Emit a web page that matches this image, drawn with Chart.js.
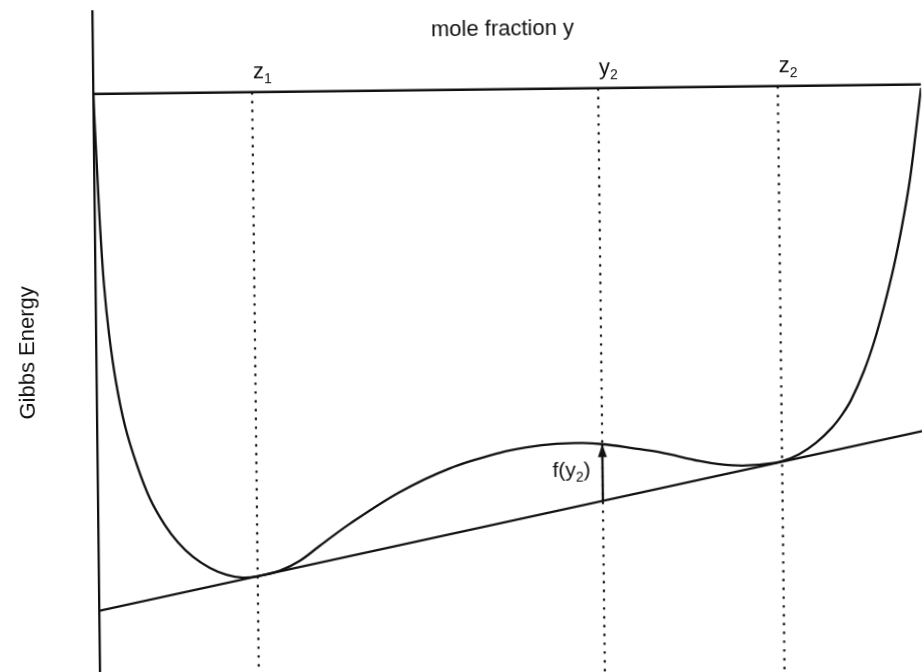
<!DOCTYPE html>
<html>
<head>
<meta charset="utf-8">
<script src="https://cdn.jsdelivr.net/npm/chart.js@4/dist/chart.umd.min.js"></script>
<style>
  html, body { margin: 0; padding: 0; background: #fff; overflow: hidden; width: 922px; height: 672px; }
  #wrap { position: absolute; left: 0; top: 0; width: 925px; height: 690px;
          transform-origin: 461px 336px; transform: rotate(-0.66deg); }
</style>
</head>
<body>
<div id="wrap"><canvas id="c"></canvas></div>
<script>
// Gibbs energy of mixing against mole fraction (arbitrary units)
const moleFraction = [0, 0.0036, 0.0064, 0.0104, 0.0158, 0.0235, 0.0338, 0.0477, 0.0629, 0.0806,
  0.0961, 0.114, 0.1343, 0.1547, 0.174, 0.192, 0.2187, 0.2429, 0.2673, 0.3038,
  0.3645, 0.4252, 0.4858, 0.5183, 0.5546, 0.586, 0.61, 0.6462, 0.6787, 0.7269,
  0.751, 0.7787, 0.8076, 0.827, 0.8475, 0.8682, 0.8877, 0.900, 0.9111, 0.9271,
  0.9397, 0.9522, 0.9648, 0.975, 0.9853, 0.9933, 1.0];
const gibbsEnergy = [10.0, 8.7, 7.72, 6.7, 5.85, 5.02, 4.26, 3.58, 3.0, 2.54,
  2.24, 1.985, 1.79, 1.665, 1.615, 1.636, 1.726, 1.893, 2.148, 2.522,
  3.06, 3.46, 3.72, 3.81, 3.865, 3.872, 3.85, 3.776, 3.702, 3.54,
  3.48, 3.45, 3.475, 3.52, 3.635, 3.83, 4.09, 4.31, 4.56, 5.06,
  5.56, 6.17, 6.87, 7.55, 8.36, 9.2, 9.94];

// common tangent touching the curve at z1 and z2
const tangentX = [0, 1];
const tangentG = [1.07, 4.02];

// reference level drawn across the top
const boundaryX = [0, 1];
const boundaryG = [10, 10];

// marked compositions: z1, y2, z2
const markerX = [0.192, 0.61, 0.827];
const markerBase = ['z', 'y', 'z'];
const markerSub = ['1', '2', '2'];

// the driving force f(y2) is shown at the second marker
const arrowIndex = 1;
const arrowLabel = ['f(y', '2', ')'];

const xTitle = 'mole fraction y';
const yTitle = 'Gibbs Energy';

const G_MIN = -0.35, G_MAX = 11.43;

const INK = '#111';
const FONT = '"Liberation Sans", Arial, Helvetica, sans-serif';

function interp(xs, ys, x) {
  for (let i = 1; i < xs.length; i++) {
    if (x <= xs[i]) {
      const t = (x - xs[i - 1]) / (xs[i] - xs[i - 1]);
      return ys[i - 1] + t * (ys[i] - ys[i - 1]);
    }
  }
  return ys[ys.length - 1];
}

const zip = (xs, ys) => xs.map((v, i) => ({ x: v, y: ys[i] }));

const arrowX = markerX[arrowIndex];
const arrowFrom = interp(tangentX, tangentG, arrowX);
const arrowTo = interp(moleFraction, gibbsEnergy, arrowX);

const datasets = [];
markerX.forEach(mx => {
  datasets.push({
    data: [{ x: mx, y: boundaryG[0] }, { x: mx, y: G_MIN }],
    borderColor: INK, borderWidth: 2.2, borderDash: [2.4, 6.4], borderCapStyle: 'butt'
  });
});
datasets.push({ data: zip(boundaryX, boundaryG), borderColor: INK, borderWidth: 2.3 });
datasets.push({ data: zip(tangentX, tangentG), borderColor: INK, borderWidth: 2.3 });
datasets.push({ data: zip(moleFraction, gibbsEnergy), borderColor: INK, borderWidth: 2.3,
  tension: 0.35 });
datasets.push({ data: [{ x: arrowX, y: arrowFrom }, { x: arrowX, y: arrowTo }],
  borderColor: INK, borderWidth: 2.3 });

// text with a lowered, smaller second part, e.g. z₁ or f(y₂)
function partsWidth(ctx, parts, size, subSize) {
  let w = 0;
  parts.forEach((p, i) => {
    ctx.font = (i % 2 ? subSize : size) + 'px ' + FONT;
    w += ctx.measureText(p).width;
  });
  return w;
}
function drawParts(ctx, parts, x, y, size, subSize, drop) {
  let cx = x;
  parts.forEach((p, i) => {
    ctx.font = (i % 2 ? subSize : size) + 'px ' + FONT;
    ctx.fillText(p, cx, y + (i % 2 ? drop : 0));
    cx += ctx.measureText(p).width;
  });
}

const annotate = {
  id: 'annotate',
  afterDatasetsDraw(chart) {
    const { ctx, scales: { x, y } } = chart;
    ctx.save();
    ctx.fillStyle = INK;
    ctx.textBaseline = 'alphabetic';
    ctx.textAlign = 'left';

    // arrow head on top of the f(y2) shaft
    const ax = x.getPixelForValue(arrowX);
    const tip = y.getPixelForValue(arrowTo);
    ctx.beginPath();
    ctx.moveTo(ax, tip);
    ctx.lineTo(ax - 4.5, tip + 13);
    ctx.lineTo(ax + 4.5, tip + 13);
    ctx.closePath();
    ctx.fill();

    // marker names above the top line
    const top = y.getPixelForValue(boundaryG[0]);
    markerX.forEach((mx, i) => {
      drawParts(ctx, [markerBase[i], markerSub[i]], x.getPixelForValue(mx) + 1, top - 14, 22, 14, 5);
    });

    // f(y2) label left of the arrow
    const lw = partsWidth(ctx, arrowLabel, 21, 14);
    drawParts(ctx, arrowLabel, ax - 12 - lw, y.getPixelForValue((arrowFrom + arrowTo) / 2) + 4, 21, 14, 5);

    // axis caption over the top
    ctx.font = '22px ' + FONT;
    ctx.textAlign = 'center';
    ctx.fillText(xTitle, 506, 36);
    ctx.restore();
  }
};

new Chart(document.getElementById('c'), {
  type: 'line',
  data: { datasets },
  options: {
    responsive: true,
    maintainAspectRatio: false,
    devicePixelRatio: 1,
    animation: false,
    layout: { padding: { top: 7, left: 0, right: 0, bottom: 0 } },
    elements: { point: { radius: 0 }, line: { tension: 0, fill: false } },
    plugins: { legend: { display: false }, tooltip: { enabled: false } },
    scales: {
      x: { type: 'linear', min: 0, max: 1, display: false },
      y: {
        type: 'linear', min: G_MIN, max: G_MAX,
        ticks: { display: false },
        grid: { display: false, drawTicks: false },
        border: { display: true, color: INK, width: 2.3 },
        title: { display: true, text: yTitle, color: INK,
          font: { family: FONT, size: 22 }, padding: { top: 14.8, bottom: 54.8 } }
      }
    }
  },
  plugins: [annotate]
});
</script>
</body>
</html>
